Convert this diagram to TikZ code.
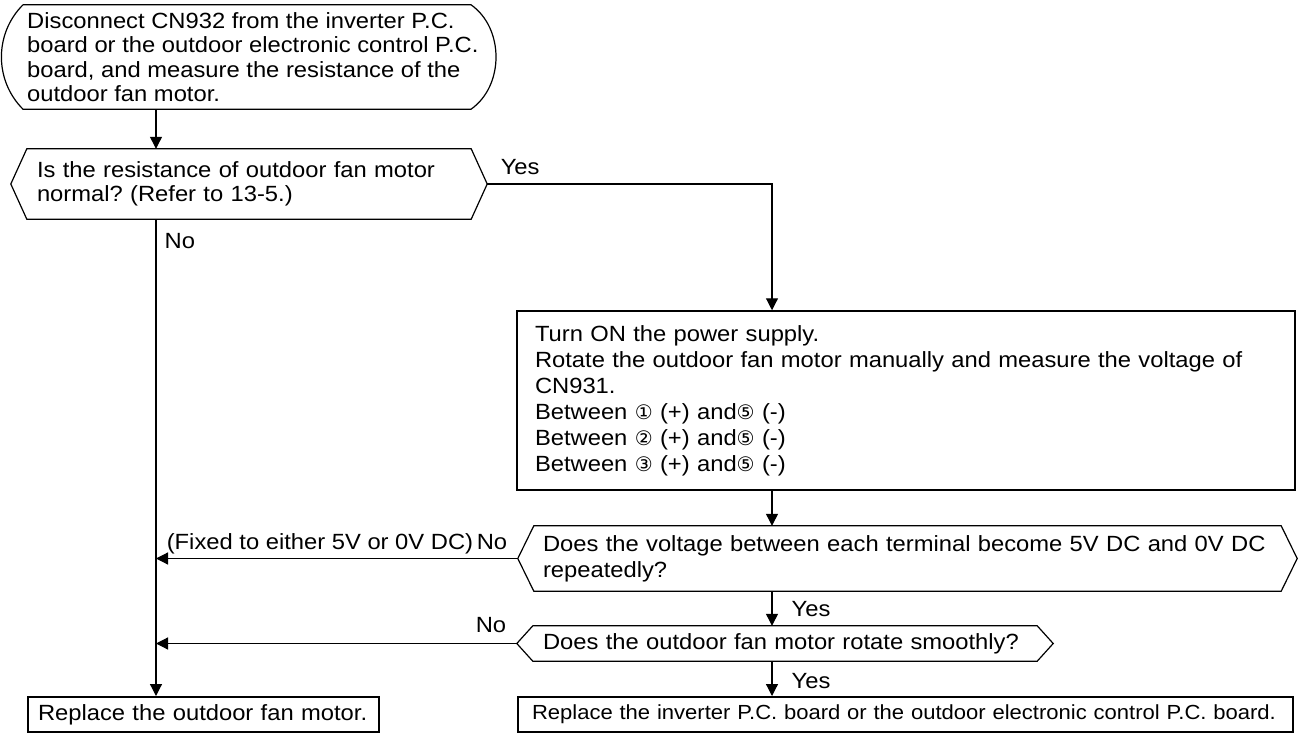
\documentclass[tikz,border=0pt]{standalone}
\usepackage{fontspec}
\setmainfont{Liberation Sans}[FakeStretch=1.08]
\newfontfamily\digitfont{DejaVu Sans}
\usetikzlibrary{arrows.meta,calc}
\frenchspacing

\newcommand{\cdig}[1]{{\digitfont\fontsize{20}{20}\selectfont #1}}

\begin{document}
\begin{tikzpicture}[x=1pt,y=-1pt,
txt/.style={font=\fontsize{22}{24.5}\selectfont},
startbox/.style={txt,align=left,inner xsep=4pt,inner ysep=0pt,minimum height=104pt},
query/.style={txt,align=left,inner xsep=10pt,inner ysep=0pt},
procbox/.style={draw,line width=1.5pt,txt,align=left,inner xsep=18pt,inner ysep=0pt},
endbox/.style={draw,line width=2pt,txt,align=left,inner ysep=0pt,minimum height=35pt},
lbl/.style={txt,inner sep=1pt},
line/.style={line width=1.2pt},
arr/.style={-{Triangle[width=12pt,length=12pt]},line width=1.2pt}]
\useasboundingbox (0,0) rectangle (1301,733);
\coordinate (lcol) at (156,0);
\coordinate (rcol) at (772,0);
\coordinate (scorner) at (471,0);
% boxes
\node[startbox,anchor=west](start) at (23,57){Disconnect CN932 from the inverter P.C.\\board or the outdoor electronic control P.C.\\board, and measure the resistance of the\\outdoor fan motor.};
\node[query,text width=424pt,minimum height=70pt](q1) at (249,184){Is the resistance of outdoor fan motor\\normal? (Refer to 13-5.)};
\node[procbox,text width=742pt,minimum height=179pt,font=\fontsize{22}{26}\selectfont](box2) at (906,400.5){Turn ON the power supply.\\Rotate the outdoor fan motor manually and measure the voltage of\\CN931.\\Between \cdig{①} (+) and\cdig{⑤} (-)\\Between \cdig{②} (+) and\cdig{⑤} (-)\\Between \cdig{③} (+) and\cdig{⑤} (-)};
\node[query,text width=729pt,inner xsep=9pt,minimum height=65pt,font=\fontsize{22}{26}\selectfont](q2) at (907.5,558.5){Does the voltage between each terminal become 5V DC and 0V DC\\repeatedly?};
\node[query,text width=484pt,minimum height=35pt](q3) at (785,643.5){Does the outdoor fan motor rotate smoothly?};
\node[endbox,text width=331pt,inner xsep=10pt](lfinal) at (203.5,714.5){Replace the outdoor fan motor.};
\node[endbox,text width=747pt,inner xsep=14pt,font=\fontsize{20.4}{24}\selectfont](rfinal) at (905.5,714.5){Replace the inverter P.C. board or the outdoor electronic control P.C. board.};
% outlines
\draw[line](start.north west)--(start.north -| scorner)to[bend left=55](start.south -| scorner)--(start.south west)to[bend left=45](start.north west);
\foreach \q in {q1,q2,q3}
  \draw[line](\q.north west)--(\q.north east)--([xshift=16pt]\q.east)--(\q.south east)--(\q.south west)--([xshift=-16pt]\q.west)--cycle;
% connectors
\draw[arr](start.south -| lcol)--(q1.north -| lcol);
\draw[arr]([xshift=16pt]q1.east)-|(box2.north -| rcol)node[lbl,pos=0,anchor=base west,xshift=12pt,yshift=9pt]{Yes};
\draw[arr](q1.south -| lcol)--(lfinal.north -| lcol)node[lbl,pos=0,anchor=base west,xshift=7pt,yshift=-29pt]{No};
\draw[arr](box2.south -| rcol)--(q2.north -| rcol);
\draw[arr]([xshift=-16pt]q2.west)--(q2.west -| lcol)node[lbl,pos=0,anchor=base east,xshift=-9pt,yshift=9.5pt]{(Fixed to either 5V or 0V DC)\,No};
\draw[arr](q2.south -| rcol)--(q3.north -| rcol)node[lbl,pos=0,anchor=base west,xshift=18pt,yshift=-25pt]{Yes};
\draw[arr]([xshift=-16pt]q3.west)--(q3.west -| lcol)node[lbl,pos=0,anchor=base east,xshift=-9pt,yshift=11.5pt]{No};
\draw[arr](q3.south -| rcol)--(rfinal.north -| rcol)node[lbl,pos=0,anchor=base west,xshift=18pt,yshift=-27pt]{Yes};
\end{tikzpicture}
\end{document}
